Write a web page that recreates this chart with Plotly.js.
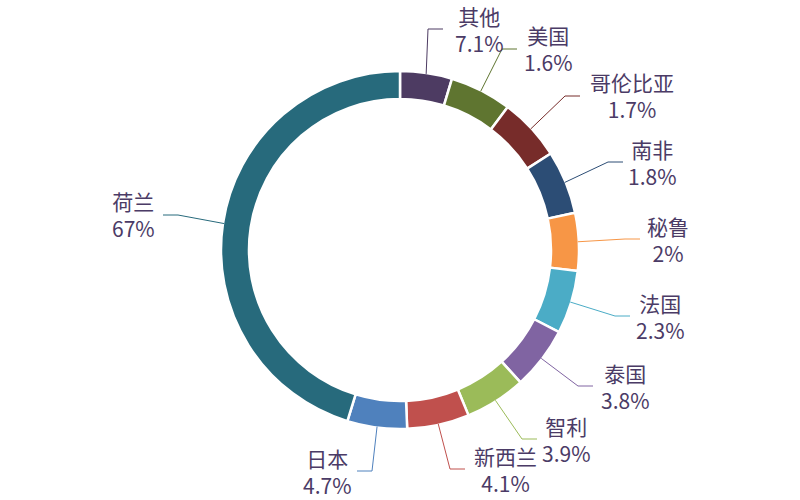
<!DOCTYPE html>
<html>
<head>
<meta charset="utf-8">
<script src="https://cdn.plot.ly/plotly-3.0.1.min.js"></script>
<style>
  html, body { margin: 0; padding: 0; background: #fff; }
  #chart { width: 800px; height: 500px; }
</style>
</head>
<body>
<div id="chart"></div>
<script>
// categories, clockwise from 12 o'clock
var names = ['其他', '美国', '哥伦比亚', '南非', '秘鲁', '法国', '泰国', '智利', '新西兰', '日本', '荷兰'];
// share labels as printed on the chart
var shares = ['7.1%', '1.6%', '1.7%', '1.8%', '2%', '2.3%', '3.8%', '3.9%', '4.1%', '4.7%', '67%'];
// arc sizes as drawn (degrees of the ring)
var arcs = [16.9, 20.1, 20.4, 20.6, 18.7, 20.6, 20.4, 19.8, 20.2, 19.4, 162.9];
var colors = ['#4d3b62', '#5f7530', '#772c2a', '#2c4d75', '#f79646', '#4bacc6',
              '#8064a2', '#9bbb59', '#c0504d', '#4f81bd', '#276a7c'];

// label placement (px): text centre x, centre y, where the leader line meets the text
var labelPos = [[479, 29, 443], [548, 49, 517], [632, 96, 580], [652, 162, 623],
                [668, 239, 640], [660, 316, 630], [625, 386, 593], [566, 439, 537],
                [505, 469, 465], [327, 471, 357], [133, 215, 163]];

var W = 800, H = 500, cx = 400, cy = 250, R = 179;
function px(x) { return x / W; }
function py(y) { return 1 - y / H; }

var total = arcs.reduce(function (a, b) { return a + b; }, 0);
var shapes = [], annotations = [], cum = 0;
var txt = '#4b3b66', fs = 21;

arcs.forEach(function (v, i) {
  var mid = (cum + v / 2) / total * 2 * Math.PI; cum += v;
  var sx = cx + (R - 1) * Math.sin(mid), sy = cy - (R - 1) * Math.cos(mid);
  var lp = labelPos[i];
  var side = lp[2] > lp[0] ? -1 : 1; // line comes from the left or right of the text
  var ex = lp[2], ey = lp[1];
  var kx = ex - side * 15;
  shapes.push({
    type: 'path', xref: 'paper', yref: 'paper',
    path: 'M' + px(sx) + ',' + py(sy) + ' L' + px(kx) + ',' + py(ey) + ' L' + px(ex) + ',' + py(ey),
    line: { color: colors[i], width: 1 }
  });
  annotations.push({ xref: 'paper', yref: 'paper', x: px(lp[0]), y: py(lp[1]),
    text: names[i] + '<br>' + shares[i], showarrow: false, align: 'center',
    xanchor: 'center', yanchor: 'middle', borderpad: 0,
    font: { size: fs, color: txt } });
});

var data = [{
  type: 'pie',
  labels: names,
  values: arcs,
  sort: false,
  direction: 'clockwise',
  rotation: 0,
  hole: 151 / 179,
  textinfo: 'none',
  hoverinfo: 'label',
  marker: { colors: colors, line: { color: '#ffffff', width: 2.5 } },
  domain: { x: [px(cx - R), px(cx + R)], y: [py(cy + R), py(cy - R)] },
  showlegend: false
}];

var layout = {
  width: W, height: H,
  margin: { l: 0, r: 0, t: 0, b: 0 },
  paper_bgcolor: '#ffffff',
  font: { family: '"Noto Sans CJK SC", "Noto Sans", sans-serif', color: txt },
  showlegend: false,
  shapes: shapes,
  annotations: annotations
};

Plotly.newPlot('chart', data, layout, { displayModeBar: false, staticPlot: true });
</script>
</body>
</html>
